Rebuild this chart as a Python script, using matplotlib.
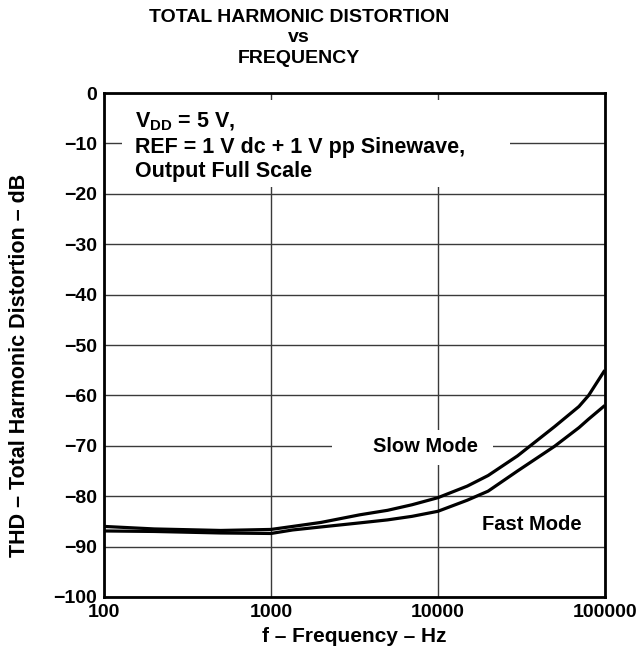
import matplotlib.pyplot as plt
from matplotlib.patches import Rectangle

plt.rcParams["font.family"] = ["Liberation Sans", "DejaVu Sans"]
plt.rcParams["font.weight"] = "bold"
plt.rcParams["mathtext.fontset"] = "custom"
plt.rcParams["mathtext.rm"] = "Liberation Sans:bold"
plt.rcParams["mathtext.bf"] = "Liberation Sans:bold"

# THD vs frequency
freq = [100, 200, 500, 1000, 1350, 2000, 3400, 5000, 7000, 10000,
        15000, 20000, 30000, 50000, 70000, 80000, 100000]
slow_mode = [-86.0, -86.5, -86.8, -86.6, -86.0, -85.2, -83.7, -82.8, -81.7, -80.3,
             -78.0, -75.9, -72.0, -66.2, -62.2, -60.0, -55.0]
fast_mode = [-86.9, -87.0, -87.3, -87.4, -86.7, -86.1, -85.3, -84.7, -84.0, -83.0,
             -80.8, -79.0, -75.0, -70.1, -66.4, -64.7, -62.0]

x_ticks = [100, 1000, 10000, 100000]
y_ticks = list(range(-100, 1, 10))

title_lines = ["TOTAL HARMONIC DISTORTION", "vs", "FREQUENCY"]
note_lines = ["V$_{\\mathrm{DD}}$ = 5 V,",
              "REF = 1 V dc + 1 V pp Sinewave,",
              "Output Full Scale"]


def main():
    fig = plt.figure(figsize=(6.4, 6.6), dpi=100)
    ax = fig.add_axes([0.1625, 0.0955, 0.7825, 0.7635])

    ax.set_xscale("log")
    ax.set_xlim(100, 100000)
    ax.set_ylim(-100, 0)
    ax.set_xticks(x_ticks)
    ax.set_xticklabels([str(t) for t in x_ticks])
    ax.set_yticks(y_ticks)
    ax.set_yticklabels([str(t).replace("-", "\u2212") for t in y_ticks])
    ax.minorticks_off()
    ax.tick_params(length=0, labelsize=14)
    ax.tick_params(axis="y", pad=5)
    ax.tick_params(axis="x", pad=5)
    for lab in ax.get_xticklabels() + ax.get_yticklabels():
        lab.set_fontweight("bold")

    ax.grid(True, color="#3a3a3a", linewidth=1.0)
    ax.set_axisbelow(True)
    for sp in ax.spines.values():
        sp.set_linewidth(2)
        sp.set_zorder(5)

    # white boxes that break the grid behind the labels
    ax.add_patch(Rectangle((0.036, 0.8135), 0.774, 0.1725, transform=ax.transAxes,
                           facecolor="white", edgecolor="none", zorder=1))
    ax.add_patch(Rectangle((0.455, 0.262), 0.321, 0.069, transform=ax.transAxes,
                           facecolor="white", edgecolor="none", zorder=1))

    ax.plot(freq, slow_mode, color="black", linewidth=2.3, zorder=3,
            solid_joinstyle="round", solid_capstyle="butt")
    ax.plot(freq, fast_mode, color="black", linewidth=2.3, zorder=3,
            solid_joinstyle="round", solid_capstyle="butt")

    ax.text(8400, -71.2, "Slow Mode", fontsize=14.5, fontweight="bold",
            ha="center", va="baseline", zorder=4)
    ax.text(36600, -86.8, "Fast Mode", fontsize=14.5, fontweight="bold",
            ha="center", va="baseline", zorder=4)

    for y_px, line in zip([127, 153, 177], note_lines):
        fig.text(135 / 640, 1 - y_px / 660, line, fontsize=15.5,
                 fontweight="bold", ha="left", va="baseline")

    for y_px, line in zip([22, 42, 63], title_lines):
        fig.text(299 / 640, 1 - y_px / 660, line, fontsize=14,
                 fontweight="bold", ha="center", va="baseline")

    fig.text(354 / 640, 1 - 636 / 660, "f \u2013 Frequency \u2013 Hz",
             fontsize=15, fontweight="bold", ha="center", va="center")
    fig.text(20 / 640, 1 - 365 / 660, "THD \u2013 Total Harmonic Distortion \u2013 dB",
             fontsize=15.5, fontweight="bold", ha="center", va="center",
             rotation=90)

    fig.savefig("out.png", dpi=100)
    plt.close(fig)


if __name__ == "__main__":
    main()
